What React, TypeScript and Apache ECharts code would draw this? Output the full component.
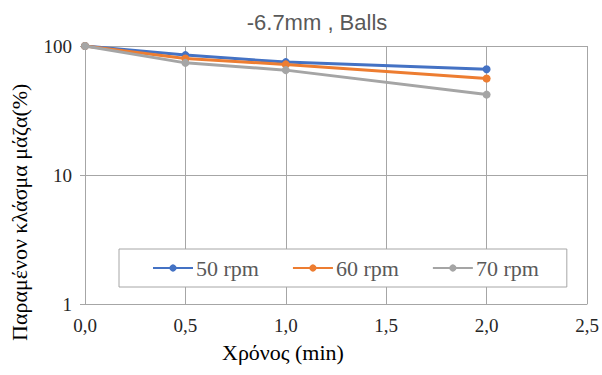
import React, { useEffect, useRef } from "react";
import * as echarts from "echarts";

const times = [0, 0.5, 1.0, 2.0];
const rpm50 = [100, 85, 75, 66];
const rpm60 = [100, 80, 72, 56];
const rpm70 = [100, 74, 65, 42];
const seriesNames = ["50 rpm", "60 rpm", "70 rpm"];
const colors = ["#4472C4", "#ED7D31", "#A5A5A5"];
const title = "-6.7mm , Balls";
const xName = "Χρόνος (min)";
const yName = "Παραμένον κλάσμα μάζα(%)";

export default function App() {
  const ref = useRef<HTMLDivElement>(null);
  useEffect(() => {
    if (!ref.current) return;
    const chart = echarts.init(ref.current, undefined, { renderer: "svg" });
    const dataSets = [rpm50, rpm60, rpm70];
    const serif = "'Liberation Serif', 'Times New Roman', serif";
    chart.setOption({
      animation: false,
      backgroundColor: "#ffffff",
      title: {
        text: title,
        left: 312,
        textAlign: "center",
        top: 6,
        textStyle: {
          fontFamily: "'Liberation Sans', Arial, sans-serif",
          fontSize: 22,
          fontWeight: "normal",
          color: "#595959",
        },
      },
      grid: { left: 85, right: 15, top: 46, bottom: 71, containLabel: false },
      xAxis: {
        type: "value",
        min: 0,
        max: 2.5,
        interval: 0.5,
        axisLine: { show: true, lineStyle: { color: "#a6a6a6", width: 1 } },
        axisTick: { show: false },
        splitLine: { show: true, lineStyle: { color: "#a6a6a6", width: 1 } },
        axisLabel: {
          margin: 12,
          fontFamily: serif,
          fontSize: 19,
          color: "#262626",
          formatter: (v: number) => v.toFixed(1).replace(".", ","),
        },
      },
      yAxis: {
        type: "log",
        logBase: 10,
        min: 1,
        max: 100,
        axisLine: { show: true, lineStyle: { color: "#a6a6a6", width: 1 } },
        axisTick: { show: true, length: 5, lineStyle: { color: "#a6a6a6" } },
        splitLine: { show: true, lineStyle: { color: "#a6a6a6", width: 1 } },
        minorTick: { show: false },
        axisLabel: {
          margin: 13,
          fontFamily: serif,
          fontSize: 19,
          color: "#262626",
        },
      },
      legend: {
        left: 119,
        top: 249,
        orient: "horizontal",
        backgroundColor: "#ffffff",
        borderColor: "#a6a6a6",
        borderWidth: 1,
        borderRadius: 0,
        padding: [8, 28, 8, 33],
        itemGap: 33,
        itemWidth: 40,
        itemHeight: 9,
        textStyle: { fontFamily: serif, fontSize: 22, color: "#595959", padding: [0, 0, 0, -2] },
        data: seriesNames,
      },
      graphic: [
        {
          type: "text",
          left: 222,
          top: 341,
          style: { text: xName, font: `22px ${serif}`, fill: "#000000" },
        },
        {
          type: "text",
          x: 8,
          y: 341,
          rotation: Math.PI / 2,
          style: { text: yName, font: `22px ${serif}`, fill: "#000000", textAlign: "left", textVerticalAlign: "top" },
        },
      ],
      series: dataSets.map((d, i) => ({
        name: seriesNames[i],
        type: "line",
        data: times.map((t, j) => [t, d[j]]),
        symbol: "circle",
        symbolSize: 8,
        showSymbol: true,
        itemStyle: { color: colors[i] },
        lineStyle: { color: colors[i], width: 3 },
        z: 2 + i,
      })),
    });
    return () => chart.dispose();
  }, []);
  return <div ref={ref} style={{ width: 602, height: 375, position: "absolute", left: 0, top: 0 }} />;
}
